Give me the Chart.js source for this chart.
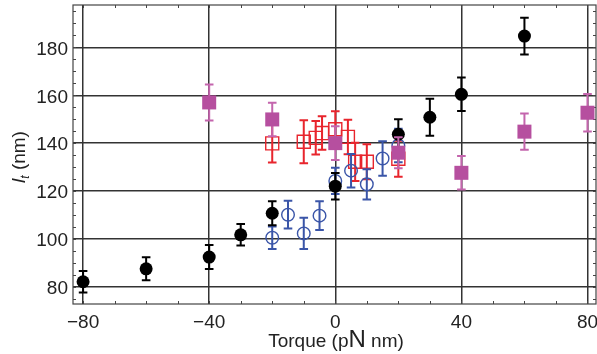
<!DOCTYPE html>
<html>
<head>
<meta charset="utf-8">
<script src="https://cdn.jsdelivr.net/npm/chart.js@4/dist/chart.umd.min.js"></script>
<style>
html,body{margin:0;padding:0;background:#fff;}
#wrap{width:597px;height:354px;position:relative;}
</style>
</head>
<body>
<div id="wrap"><canvas id="c" width="597" height="354"></canvas></div>
<script>
// ---- data ----
const xTicks = [-80, -40, 0, 40, 80];
const yTicks = [80, 100, 120, 140, 160, 180];

const blackX   = [-80, -60, -40, -30, -20, 0, 20, 30, 40, 60];
const blackY   = [82.1, 87.5, 92.4, 101.7, 110.7, 122.0, 143.7, 150.8, 160.4, 184.7];
const blackErr = [4.5, 4.8, 5.0, 4.5, 5.0, 5.5, 6.3, 7.7, 7.0, 7.7];

const magentaX   = [-40, -20, 0, 20, 40, 60, 80];
const magentaY   = [157.0, 149.9, 140.0, 136.0, 127.6, 144.8, 152.7];
const magentaErr = [7.5, 7.0, 7.0, 6.5, 7.0, 7.6, 7.8];

const redX   = [-20, -10, -6.2, -4.2, 0, 4, 6.3, 10, 20];
const redY   = [139.9, 140.6, 142.2, 144.2, 145.8, 142.6, 132.2, 132.2, 133.5];
const redErr = [8.0, 9.0, 7.0, 7.0, 7.5, 7.2, 8.0, 7.3, 7.5];

const blueX   = [-20, -15, -10, -5, 0, 5, 10, 15, 20];
const blueY   = [100.5, 110.1, 102.3, 109.7, 124.2, 128.5, 122.8, 133.6, 139.0];
const blueErr = [4.7, 5.8, 6.5, 6.0, 5.5, 7.0, 6.3, 7.2, 7.0];

const toPts = (xs, ys) => xs.map((x, i) => ({x: x, y: ys[i]}));

// ---- plugins ----
const errPlugin = {
  id: 'errbars',
  beforeDatasetDraw(chart, args) {
    const ds = chart.data.datasets[args.index];
    if (!ds.errors) return;
    const xs = chart.scales.x, ys = chart.scales.y, ctx = chart.ctx;
    const cap = 4.3;
    ctx.save();
    ctx.strokeStyle = ds.errColor;
    ctx.lineWidth = ds.errWidth;
    ds.data.forEach((p, i) => {
      const px = xs.getPixelForValue(p.x);
      const top = ys.getPixelForValue(p.y + ds.errors[i]);
      const bot = ys.getPixelForValue(p.y - ds.errors[i]);
      ctx.beginPath();
      ctx.moveTo(px, top); ctx.lineTo(px, bot);
      ctx.moveTo(px - cap, top); ctx.lineTo(px + cap, top);
      ctx.moveTo(px - cap, bot); ctx.lineTo(px + cap, bot);
      ctx.stroke();
    });
    ctx.restore();
  }
};

const FONT = '"Liberation Sans", Arial, sans-serif';

const framePlugin = {
  id: 'frame',
  beforeDatasetsDraw(chart) {
    const a = chart.chartArea, ctx = chart.ctx;
    const xs = chart.scales.x, ys = chart.scales.y;
    ctx.save();
    ctx.strokeStyle = '#444';
    ctx.lineWidth = 1.2;
    ctx.strokeRect(a.left, a.top, a.right - a.left, a.bottom - a.top);
    ctx.lineWidth = 1;
    ctx.beginPath();
    for (let v = -80; v <= 80; v += 10) {
      const px = Math.round(xs.getPixelForValue(v)) + 0.5;
      ctx.moveTo(px, a.bottom); ctx.lineTo(px, a.bottom - 3);
      ctx.moveTo(px, a.top); ctx.lineTo(px, a.top + 3);
    }
    for (let v = 75; v <= 195; v += 5) {
      const py = Math.round(ys.getPixelForValue(v)) + 0.5;
      ctx.moveTo(a.left, py); ctx.lineTo(a.left + 3, py);
      ctx.moveTo(a.right, py); ctx.lineTo(a.right - 3, py);
    }
    ctx.stroke();
    ctx.restore();
  },
  afterDraw(chart) {
    const ctx = chart.ctx;
    const xs = chart.scales.x, ys = chart.scales.y;
    ctx.save();
    ctx.fillStyle = '#222';
    // tick labels
    ctx.font = '19px ' + FONT;
    ctx.textBaseline = 'alphabetic';
    ctx.textAlign = 'center';
    xTicks.forEach(v => {
      ctx.fillText(String(v).replace('-', '\u2212'), xs.getPixelForValue(v), 328);
    });
    ctx.textAlign = 'right';
    yTicks.forEach(v => {
      ctx.fillText(String(v), 68, ys.getPixelForValue(v) + 7.3);
    });
    ctx.textAlign = 'left';
    // x title
    const f1 = '19px ' + FONT;
    const f2 = '24px ' + FONT;
    const parts = [['Torque (p', f1], ['N', f2], [' nm)', f1]];
    let w = 0;
    parts.forEach(p => { ctx.font = p[1]; w += ctx.measureText(p[0]).width; });
    let x = 336 - w / 2;
    parts.forEach(p => { ctx.font = p[1]; ctx.fillText(p[0], x, 347); x += ctx.measureText(p[0]).width; });
    // y title
    ctx.translate(25, 157);
    ctx.rotate(-Math.PI / 2);
    const fi = 'italic 19px ' + FONT;
    const fs = 'italic 12px ' + FONT;
    const yp = [['l', fi, 0], ['t', fs, 4], [' (nm)', f1, 0]];
    w = 0;
    yp.forEach(p => { ctx.font = p[1]; w += ctx.measureText(p[0]).width; });
    x = -w / 2;
    yp.forEach(p => { ctx.font = p[1]; ctx.fillText(p[0], x, p[2]); x += ctx.measureText(p[0]).width; });
    ctx.restore();
  }
};

// ---- chart ----
new Chart(document.getElementById('c'), {
  type: 'scatter',
  data: {
    datasets: [
      {
        label: 'magenta', order: 0,
        data: toPts(magentaX, magentaY), errors: magentaErr,
        errColor: '#c465ad', errWidth: 2,
        pointStyle: 'rect', pointRadius: 9.9, pointHoverRadius: 9.9,
        backgroundColor: '#b64f9f', borderColor: '#b64f9f', borderWidth: 0
      },
      {
        label: 'black', order: 1,
        data: toPts(blackX, blackY), errors: blackErr,
        errColor: '#000', errWidth: 2,
        pointStyle: 'circle', pointRadius: 6.5, pointHoverRadius: 6.5,
        backgroundColor: '#000', borderColor: '#000', borderWidth: 0
      },
      {
        label: 'blue', order: 2,
        data: toPts(blueX, blueY), errors: blueErr,
        errColor: '#3a55a8', errWidth: 2,
        pointStyle: 'circle', pointRadius: 6.3, pointHoverRadius: 6.3,
        backgroundColor: 'rgba(0,0,0,0)', borderColor: '#3a55a8', borderWidth: 1.4
      },
      {
        label: 'red', order: 3,
        data: toPts(redX, redY), errors: redErr,
        errColor: '#e8252d', errWidth: 2,
        pointStyle: 'rect', pointRadius: 9.2, pointHoverRadius: 9.2,
        backgroundColor: 'rgba(0,0,0,0)', borderColor: '#e8252d', borderWidth: 1.4
      }
    ]
  },
  options: {
    responsive: false,
    animation: false,
    devicePixelRatio: 1,
    layout: {autoPadding: false, padding: {top: 5, right: 1, left: 0, bottom: 0}},
    plugins: {legend: {display: false}, tooltip: {enabled: false}},
    scales: {
      x: {
        type: 'linear', min: -83.2, max: 82.7,
        afterBuildTicks: s => { s.ticks = xTicks.map(v => ({value: v})); },
        afterFit: s => { s.height = 50; },
        grid: {color: '#333', lineWidth: 1.5, drawTicks: false},
        border: {display: false},
        ticks: {display: false}
      },
      y: {
        type: 'linear', min: 72.8, max: 197.7,
        afterBuildTicks: s => { s.ticks = yTicks.map(v => ({value: v})); },
        afterFit: s => { s.width = 73; },
        grid: {color: '#333', lineWidth: 1.5, drawTicks: false},
        border: {display: false},
        ticks: {display: false}
      }
    }
  },
  plugins: [errPlugin, framePlugin]
});
</script>
</body>
</html>
